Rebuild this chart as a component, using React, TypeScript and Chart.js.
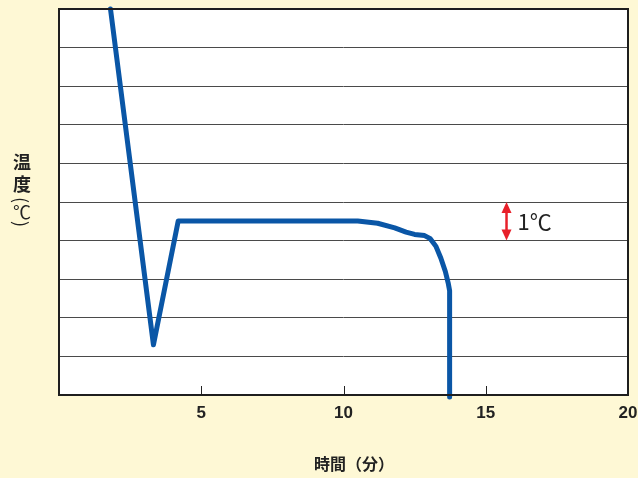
import React, { useEffect, useRef } from "react";
import { Chart, registerables } from "chart.js";

Chart.register(...registerables);

// time (minutes)
const timeMin: number[] = [1.81, 3.32, 4.19, 10.5, 11.2, 11.8, 12.2, 12.5, 12.85, 13.05, 13.25, 13.42, 13.58, 13.68, 13.73, 13.73];
// temperature (grid units, 1 unit = 1℃)
const tempVals: number[] = [10.0, 1.3, 4.51, 4.51, 4.45, 4.33, 4.22, 4.16, 4.13, 4.05, 3.85, 3.55, 3.2, 2.9, 2.7, -0.05];
const xTicks: number[] = [5, 10, 15, 20];
const xTitle = "時間（分）";
const yTitleMain = "温度";
const yTitleUnit = "(℃)";
const scaleNote = "1℃";
const scaleNoteX = 15.73;
const scaleNoteRange: number[] = [4, 5];

const BG = "#FEF8D5";
const LINE = "#0A56A6";
const TEXT = "#222222";

export default function App() {
  const ref = useRef<HTMLCanvasElement | null>(null);

  useEffect(() => {
    const canvas = ref.current;
    if (!canvas) return;

    const decor = {
      id: "decor",
      beforeDraw(chart: any) {
        const { ctx, chartArea } = chart;
        ctx.save();
        ctx.fillStyle = BG;
        ctx.fillRect(0, 0, chart.width, chart.height);
        ctx.fillStyle = "#ffffff";
        ctx.fillRect(chartArea.left, chartArea.top, chartArea.right - chartArea.left, chartArea.bottom - chartArea.top);
        ctx.restore();
      },
      afterDatasetsDraw(chart: any) {
        const { ctx, chartArea, scales } = chart;
        const xs = scales.x;
        const ys = scales.y;
        ctx.save();
        // ticks inside plot
        ctx.strokeStyle = TEXT;
        ctx.lineWidth = 1;
        xTicks.forEach((t) => {
          if (t >= 20) return;
          const px = Math.round(xs.getPixelForValue(t)) + 0.5;
          ctx.beginPath();
          ctx.moveTo(px, chartArea.bottom);
          ctx.lineTo(px, chartArea.bottom - 9);
          ctx.stroke();
        });
        // border
        ctx.strokeStyle = "#1e1e1e";
        ctx.lineWidth = 2;
        ctx.strokeRect(chartArea.left, chartArea.top, chartArea.right - chartArea.left, chartArea.bottom - chartArea.top);

        // x title
        ctx.fillStyle = TEXT;
        ctx.textBaseline = "middle";
        ctx.font = "bold 16px 'Noto Sans CJK JP'";
        ctx.textAlign = "left";
        ctx.fillText(xTitle, 314, 464);

        // 1℃ annotation
        const ax = xs.getPixelForValue(scaleNoteX);
        const ay1 = ys.getPixelForValue(scaleNoteRange[1]);
        const ay2 = ys.getPixelForValue(scaleNoteRange[0]);
        ctx.strokeStyle = "#E8202A";
        ctx.fillStyle = "#E8202A";
        ctx.lineWidth = 2.5;
        ctx.beginPath();
        ctx.moveTo(ax, ay1 + 6);
        ctx.lineTo(ax, ay2 - 6);
        ctx.stroke();
        ctx.beginPath();
        ctx.moveTo(ax, ay1);
        ctx.lineTo(ax - 5, ay1 + 11);
        ctx.lineTo(ax + 5, ay1 + 11);
        ctx.closePath();
        ctx.fill();
        ctx.beginPath();
        ctx.moveTo(ax, ay2);
        ctx.lineTo(ax - 5, ay2 - 11);
        ctx.lineTo(ax + 5, ay2 - 11);
        ctx.closePath();
        ctx.fill();
        ctx.fillStyle = TEXT;
        ctx.textAlign = "left";
        ctx.textBaseline = "middle";
        ctx.font = "22px 'Noto Sans CJK JP'";
        ctx.fillText(scaleNote, ax + 11, (ay1 + ay2) / 2);
        ctx.restore();
      },
    };

    const chart = new Chart(canvas, {
      type: "line",
      data: {
        datasets: [
          {
            data: timeMin.map((t, i) => ({ x: t, y: tempVals[i] })),
            borderColor: LINE,
            borderWidth: 5,
            borderCapStyle: "round",
            borderJoinStyle: "round",
            pointRadius: 0,
            tension: 0,
            clip: false as any,
          },
        ],
      },
      options: {
        responsive: false,
        animation: false,
        events: [],
        layout: { padding: { top: 9, right: 10, left: 0, bottom: 0 } },
        plugins: { legend: { display: false }, tooltip: { enabled: false } },
        scales: {
          x: {
            type: "linear",
            min: 0,
            max: 20,
            afterFit: (s: any) => {
              s.height = 83;
              s.paddingLeft = 0;
              s.paddingRight = 0;
            },
            grid: { display: false, drawTicks: false },
            border: { display: false },
            afterBuildTicks: (s: any) => {
              s.ticks = xTicks.map((v) => ({ value: v }));
            },
            ticks: {
              padding: 8,
              color: TEXT,
              font: { family: "'Liberation Sans'", size: 17, weight: "bold" },
              maxRotation: 0,
              autoSkip: false,
            },
          },
          y: {
            min: 0,
            max: 10,
            afterFit: (s: any) => {
              s.width = 59;
              s.paddingTop = 0;
              s.paddingBottom = 0;
            },
            ticks: { display: false, stepSize: 1 },
            grid: { color: "#4a4a4a", lineWidth: 1, drawTicks: false },
            border: { display: false },
          },
        },
      },
      plugins: [decor],
    });
    return () => chart.destroy();
  }, []);

  return (
    <div style={{ position: "fixed", left: 0, top: 0, width: 638, height: 478, background: BG }}>
      <canvas ref={ref} width={638} height={478} />
      <div
        style={{
          position: "absolute",
          left: 13,
          top: 153,
          writingMode: "vertical-rl",
          textOrientation: "mixed",
          fontFamily: "'Noto Sans CJK JP'",
          fontSize: 18,
          lineHeight: "18px",
          color: TEXT,
          whiteSpace: "nowrap",
        }}
      >
        <span style={{ fontWeight: "bold", letterSpacing: 4 }}>{yTitleMain}</span>
        <span>{yTitleUnit}</span>
      </div>
    </div>
  );
}
